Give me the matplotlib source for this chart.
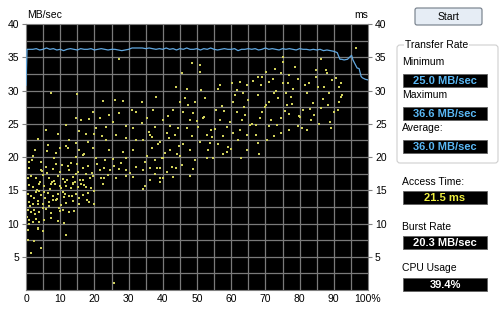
import matplotlib
matplotlib.use("Agg")
import matplotlib.pyplot as plt
from matplotlib.patches import Rectangle, FancyBboxPatch

plt.rcParams['font.family'] = ['Liberation Sans', 'DejaVu Sans']

# Transfer rate curve (MB/sec) against position (%)
rate_pos = [0, 0.3, 1, 2, 3, 4, 5, 6, 7, 8, 9, 10, 11, 12, 13, 14, 15, 16, 17, 18,
            19, 20, 21, 22, 23, 24, 25, 26, 27, 28, 29, 30, 31, 32, 33, 34, 35, 36,
            37, 38, 39, 40, 41, 42, 43, 44, 45, 46, 47, 48, 49, 50, 51, 52, 53, 54,
            55, 56, 57, 58, 59, 60, 61, 62, 63, 64, 65, 66, 67, 68, 69, 70, 71, 72,
            73, 74, 75, 76, 77, 78, 79, 80, 81, 82, 83, 84, 85, 86, 87, 88, 89, 90,
            91, 91.8, 92.3, 93, 94, 95.2, 95.6, 96.3, 96.8, 97.4, 98.0, 98.4, 99.2, 100]
rate_mbs = [30.8, 36.2, 36.2, 36.2, 36.3, 36.1, 36.2, 36.4, 36.2, 36.3, 36.1, 36.2, 36.0, 36.2,
            36.3, 36.2, 36.1, 36.3, 36.2, 36.2, 36.3, 36.1, 36.2, 36.3, 36.2, 36.1, 36.2,
            36.2, 36.1, 36.0, 36.1, 36.2, 36.4, 36.4, 36.4, 36.4, 36.3, 36.4, 36.3, 36.2,
            36.3, 36.2, 36.4, 36.2, 36.3, 36.1, 36.3, 36.2, 36.4, 36.2, 36.2, 36.3, 36.1,
            36.3, 36.2, 36.4, 36.2, 36.1, 36.2, 36.3, 36.2, 36.2, 36.3, 36.0, 36.2, 36.2,
            36.3, 36.2, 36.3, 36.1, 36.2, 36.4, 36.2, 36.3, 36.2, 36.1, 36.3, 36.2,
            36.3, 36.2, 36.1, 36.3, 36.2, 36.2, 36.1, 36.2, 36.1, 36.2, 36.0, 36.1, 36.0,
            35.9, 35.7, 34.7, 34.7, 34.6, 34.7, 35.3, 34.6, 33.9, 33.4, 33.3, 32.1, 31.9, 31.7, 31.6]

# Access time samples (ms) against position (%)
acc_pos = [
    1.0, 4.4, 5.9, 7.8, 12.2, 12.7, 16.6, 18.0, 21.5, 22.9, 25.8, 27.3, 29.3, 32.2,
    1.5, 2.9, 4.9, 6.8, 9.3, 10.7, 13.7, 14.6, 16.6, 19.5, 22.9, 23.9, 26.3, 29.3, 31.2,
    1.0, 2.0, 3.9, 5.4, 7.3, 10.2, 11.7, 13.7, 15.1, 17.1, 19.0, 22.4,
    0.5, 1.5, 2.9, 4.4, 6.3, 7.8, 9.3, 10.7, 12.7, 14.6, 16.6, 18.0,
    1.0, 2.0, 3.4, 4.9, 6.8, 8.8, 10.2, 11.7, 13.7, 15.6, 18.5, 20.0,
    0.5, 1.5, 2.4, 3.9, 5.9, 7.3, 9.8, 10.7, 12.7, 14.1,
    1.0, 2.0, 2.9, 3.9, 5.4, 7.3, 9.3, 11.2,
    0.5, 3.4, 4.9, 0.5, 2.4, 1.5, 4.4, 11.7, 25.8, 3.4,
    0.3, 1.2, 2.2, 3.1, 4.1, 5.0, 6.1, 7.0, 8.2, 9.0, 10.0, 11.0, 12.0, 13.1, 14.2, 15.3,
    16.0, 17.4, 18.8, 19.8, 0.8, 2.6, 3.7, 5.7, 6.6, 8.5, 9.6, 11.5, 13.4, 15.9, 17.8,
    0.7, 1.8, 2.7, 3.6, 4.7, 5.2, 6.0, 7.6, 8.0, 8.7, 9.9, 10.4, 11.3, 12.4, 13.6, 14.8,
    15.4, 16.8, 17.5, 19.2, 20.8, 21.9, 23.0, 24.6, 27.8, 30.4,
    # 0-33 %, upper band
    27.3, 7.3, 14.9, 22.4, 26.1, 28.3, 31.0, 32.2, 19.5, 21.5, 24.2, 27.1, 14.6, 16.1,
    18.5, 25.4, 11.7, 20.5, 23.4, 29.3, 31.2, 15.6, 17.6, 20.0, 22.2, 26.3, 9.3, 5.9,
    3.4, 12.7, 14.6, 18.0, 23.4, 29.3, 32.2, 9.8, 11.7, 15.6, 19.5, 24.4, 28.3, 31.2,
    8.3, 14.6, 20.5, 25.4, 29.3, 4.4, 1.0, 2.1, 6.5, 8.9, 13.2, 17.0,
    # 33-67 %
    34.3, 36.2, 38.2, 39.2, 42.6, 44.0, 45.5, 48.9, 37.7, 41.1, 36.2, 39.2, 40.1, 42.9,
    47.9, 39.2, 34.8, 34.1,
    48.4, 50.9, 45.5, 50.9, 56.7, 60.1, 62.6, 64.5, 47.0, 51.3, 61.6, 63.5, 33.8, 45.0,
    49.4, 60.6, 65.0, 37.2, 43.1, 46.0, 48.9, 55.7, 61.6, 64.0, 35.3, 40.1, 47.9, 51.8,
    56.7, 59.6, 63.1, 33.8, 37.7, 42.1, 44.5, 47.0, 50.4, 55.3, 58.7, 62.6, 36.2, 41.1,
    43.5, 48.4, 52.8, 57.7, 60.6, 64.5, 34.3, 39.2, 46.0, 50.9, 56.2, 62.1, 36.7, 42.1,
    47.9, 53.3, 58.7, 64.5, 35.3, 40.1, 45.0, 49.4, 54.8, 34.8, 37.7,
    38.6, 41.8, 44.2, 52.0, 53.9, 57.2, 59.0, 66.0, 35.9, 39.9, 46.5, 54.1,
    # 67-100 %
    96.4, 75.0, 75.0, 86.2, 70.1, 67.7, 69.1, 72.1, 74.5, 76.9, 79.4, 84.7, 87.7, 88.1,
    89.6, 71.1, 75.0, 76.5, 82.8, 92.0, 91.6, 92.5, 67.7, 72.5, 76.0, 82.3, 88.6, 71.1,
    76.4, 83.8, 91.6, 92.0, 86.2, 90.1, 69.1, 76.9, 84.2, 71.6, 74.5, 83.3, 67.2, 71.1,
    73.5, 79.4, 80.8, 82.3, 76.9, 72.5, 74.5, 67.2, 70.6, 67.7,
    78.2, 81.0, 85.5, 88.9, 69.8, 73.0, 80.0, 86.9, 68.4, 77.7,
    # extra scattered samples 35-92 %
    38.0, 41.5, 44.8, 47.4, 50.0, 52.4, 54.5, 56.0, 58.0, 59.9, 61.0, 63.7, 65.6, 66.4,
    68.8, 70.3, 72.9, 73.8, 75.7, 77.4, 78.8, 79.9, 81.6, 83.0, 84.9, 85.8, 87.2, 88.4,
    89.3, 90.6, 91.2, 44.0, 40.6, 36.9, 53.0, 57.5, 62.9, 68.0,
]
acc_ms = [
    18.4, 18.1, 18.5, 18.2, 18.6, 18.0, 18.4, 18.7, 18.1, 18.3, 18.6, 18.2, 18.0, 18.5,
    17.1, 16.8, 17.3, 16.9, 17.2, 16.7, 17.0, 17.4, 16.6, 17.1, 16.9, 17.3, 16.8, 17.2, 17.0,
    15.8, 15.5, 15.9, 15.6, 16.0, 15.4, 15.7, 16.1, 15.5, 15.8, 15.3, 15.9,
    14.5, 14.2, 14.7, 14.3, 14.6, 14.1, 14.4, 14.8, 14.2, 14.5, 14.3, 14.6,
    13.3, 13.0, 13.4, 12.9, 13.2, 13.5, 12.8, 13.1, 13.4, 12.9, 13.2, 13.0,
    12.0, 11.7, 12.1, 11.8, 12.2, 11.6, 11.9, 12.0, 11.7, 11.9,
    10.6, 10.3, 10.7, 10.2, 10.5, 10.8, 10.4, 10.1,
    9.0, 9.2, 8.8, 7.5, 7.3, 5.6, 6.3, 8.3, 1.0, 9.4,
    11.0, 12.6, 13.8, 15.0, 16.3, 12.4, 17.6, 15.2, 16.4, 13.7, 17.7, 14.0, 16.5, 15.3,
    16.2, 17.8, 16.0, 17.5, 16.9, 14.9, 9.9, 11.4, 14.9, 13.8, 12.6, 15.9, 12.3, 16.2,
    14.1, 16.5, 13.5,
    16.8, 19.5, 21.0, 12.9, 17.9, 14.8, 20.9, 16.2, 13.6, 19.0, 15.6, 18.8, 14.4, 21.4,
    16.0, 18.9, 13.9, 20.3, 15.5, 17.6, 18.9, 16.8, 19.6, 18.0, 19.1, 17.6,
    34.7, 29.7, 29.5, 28.5, 28.6, 28.4, 27.1, 26.8, 26.7, 25.9, 26.3, 26.6, 25.8, 25.5,
    25.7, 25.3, 24.8, 24.3, 24.5, 24.6, 24.3, 23.9, 23.5, 23.4, 23.1, 23.3, 23.5, 24.0,
    22.7, 22.6, 22.1, 22.3, 22.6, 22.8, 22.6, 21.3, 21.6, 21.0, 21.3, 21.0, 20.8, 21.0,
    19.8, 20.0, 19.8, 19.7, 19.8, 19.3, 19.3, 20.2, 21.8, 20.6, 19.1, 20.4,
    18.0, 18.4, 18.4, 18.3, 18.5, 18.4, 18.8, 18.2, 17.4, 17.8, 16.5, 16.9, 16.9, 17.0,
    17.2, 16.2, 15.7, 15.2,
    34.1, 33.8, 32.6, 32.8, 30.8, 31.1, 31.3, 30.8, 30.3, 30.1, 30.1, 29.7, 28.3, 28.3,
    28.3, 28.3, 28.6, 27.1, 27.1, 26.8, 26.6, 27.1, 26.8, 26.3, 25.8, 25.6, 25.6, 25.8,
    25.6, 25.3, 25.6, 25.1, 24.5, 24.7, 24.3, 24.3, 24.5, 24.2, 24.5, 24.1, 23.3, 23.6,
    23.3, 23.1, 23.3, 23.1, 23.6, 23.3, 22.6, 22.3, 22.0, 22.3, 22.0, 22.6, 21.3, 21.0,
    21.1, 21.0, 20.8, 21.0, 20.1, 19.8, 20.1, 19.5, 19.8, 19.3, 19.5,
    21.9, 22.8, 20.5, 26.0, 22.1, 27.6, 21.5, 25.0, 23.8, 19.9, 28.9, 24.0,
    36.4, 35.1, 34.3, 34.8, 32.8, 32.1, 32.1, 31.8, 32.6, 32.3, 31.8, 33.1, 33.1, 32.6,
    31.6, 31.3, 31.1, 31.1, 31.1, 31.1, 30.6, 29.3, 29.3, 29.6, 29.6, 29.6, 29.6, 28.3,
    27.8, 28.1, 28.3, 29.0, 27.3, 26.8, 26.8, 26.5, 26.3, 25.6, 25.8, 25.6, 24.8, 24.6,
    24.8, 24.7, 24.3, 24.1, 24.0, 23.1, 23.6, 23.3, 22.6, 22.1,
    30.2, 27.0, 30.5, 25.2, 27.5, 30.0, 26.0, 28.8, 25.9, 28.0,
    29.0, 26.2, 21.6, 27.9, 25.4, 28.9, 23.0, 30.2, 26.9, 21.2, 29.3, 27.5, 24.8, 31.5,
    30.8, 27.9, 33.3, 28.9, 26.9, 29.1, 33.5, 26.2, 30.9, 27.2, 32.0, 25.0, 30.6, 27.9,
    24.4, 31.9, 27.0, 30.5, 20.6, 23.0, 19.8, 20.4, 19.9, 20.4,
]

x_ticks = [0, 10, 20, 30, 40, 50, 60, 70, 80, 90, 100]
x_labels = ['0', '10', '20', '30', '40', '50', '60', '70', '80', '90', '100%']
y_ticks = [5, 10, 15, 20, 25, 30, 35, 40]

fig = plt.figure(figsize=(5, 3.14), dpi=100, facecolor='white')
ax = fig.add_axes([0.052, 0.0764, 0.684, 0.847])
ax.set_facecolor('black')
ax.set_xlim(0, 100)
ax.set_ylim(0, 40)

# grid every 5 % and every 2.5 units
for gx in range(5, 100, 5):
    ax.axvline(gx, color='#7a7a7a', lw=0.9, zorder=1)
for gy in [i * 2.5 for i in range(1, 16)]:
    ax.axhline(gy, color='#7a7a7a', lw=0.9, zorder=1)

ax.scatter(acc_pos, acc_ms, s=1.2, marker='s', color='#d0d05a', linewidths=0, zorder=2)
ax.plot(rate_pos, rate_mbs, color='#62a8e0', lw=0.9, zorder=3)

ax.set_xticks(x_ticks)
ax.set_xticklabels(x_labels)
ax.set_yticks(y_ticks)
ax.tick_params(axis='both', labelsize=7.5, length=3, width=0.8, color='#808080', pad=2)
ax.tick_params(axis='x', length=0, pad=3)
ax.tick_params(axis='y', which='both', right=True, labelright=True)
for sp in ax.spines.values():
    sp.set_color('#808080')

fig.text(0.054, 0.935, 'MB/sec', fontsize=7.5, ha='left', va='bottom')
fig.text(0.708, 0.935, 'ms', fontsize=7.5, ha='left', va='bottom')

# right-hand panel drawn in pixel coordinates
ui = fig.add_axes([0, 0, 1, 1], zorder=5)
ui.set_xlim(0, 500)
ui.set_ylim(314, 0)
ui.axis('off')
ui.patch.set_alpha(0)

ui.add_patch(FancyBboxPatch((415, 8), 67, 17, boxstyle='round,pad=0,rounding_size=2',
                            facecolor='#e6edf5', edgecolor='#707a86', lw=0.8))
ui.text(448.5, 16.5, 'Start', fontsize=7.5, ha='center', va='center')

ui.add_patch(FancyBboxPatch((397, 45), 101, 118, boxstyle='round,pad=0,rounding_size=3',
                            facecolor='none', edgecolor='#cfcfcf', lw=0.8))
ui.text(405, 45, 'Transfer Rate', fontsize=7.5, ha='left', va='center',
        bbox=dict(facecolor='white', edgecolor='none', pad=0.5))

panel_labels = ['Minimum', 'Maximum', 'Average:', 'Access Time:', 'Burst Rate', 'CPU Usage']
panel_values = ['25.0 MB/sec', '36.6 MB/sec', '36.0 MB/sec', '21.5 ms', '20.3 MB/sec', '39.4%']
panel_colors = ['#5ab8f5', '#5ab8f5', '#5ab8f5', '#f0f040', 'white', 'white']
label_y = [62, 95, 128, 182, 227, 268]
box_y = [74, 107, 140, 191, 236, 278]

for lab, val, col, ly, by in zip(panel_labels, panel_values, panel_colors, label_y, box_y):
    ui.text(402, ly, lab, fontsize=7.5, ha='left', va='center')
    ui.add_patch(Rectangle((403, by), 84, 13, facecolor='black', edgecolor='#606060', lw=0.6))
    ui.text(445, by + 6.8, val, fontsize=8, fontweight='bold', color=col,
            ha='center', va='center')

fig.savefig('out.png', dpi=100, facecolor='white')
